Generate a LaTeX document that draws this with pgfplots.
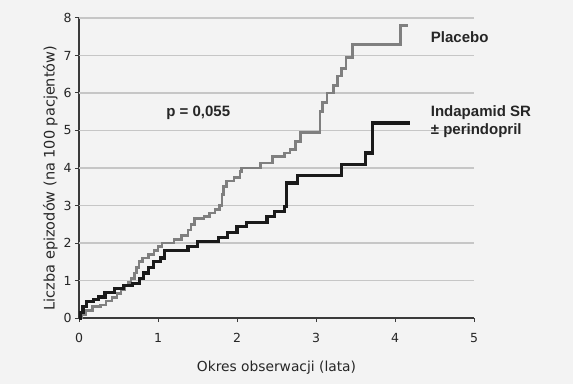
\documentclass[border=0pt]{standalone}
\usepackage{pgfplots}
\pgfplotsset{compat=1.18}
\usepackage{fontspec}
\setmainfont{DejaVu Sans}
\newfontfamily\arialfont{Liberation Sans}
\definecolor{bgc}{HTML}{F3F3F3}
\definecolor{gridc}{HTML}{C6C6C6}
\definecolor{plac}{HTML}{7F7F7F}
\definecolor{inda}{HTML}{1A1A1A}
\definecolor{axc}{HTML}{3A3A3A}
\definecolor{txt}{HTML}{262626}
\begin{document}
\begin{tikzpicture}
\path[use as bounding box, fill=bgc] (-79bp,-66bp) rectangle (494bp,318bp);
\begin{axis}[
  at={(0,0)}, anchor=south west,
  scale only axis, width=395bp, height=300bp,
  xmin=0, xmax=5, ymin=0, ymax=8,
  axis x line*=bottom, axis y line*=left,
  axis line style={axc, line width=1.4bp},
  xtick={0,1,2,3,4,5}, ytick={0,1,2,3,4,5,6,7,8},
  tick align=outside, major tick length=4bp,
  tick style={axc, line width=1bp},
  /pgf/number format/assume math mode=true,
  tick label style={font=\fontsize{12.5bp}{14bp}\selectfont, text=txt},
  xticklabel style={yshift=-8bp},
  xlabel={Okres obserwacji (lata)},
  ylabel={Liczba epizodów (na 100 pacjentów)},
  xlabel style={font=\fontsize{13.8bp}{15bp}\selectfont, text=txt, yshift=-11bp},
  ylabel style={font=\fontsize{14.5bp}{16bp}\selectfont, text=txt, yshift=-1bp, xshift=-10bp},
  clip=false,
]
\pgfplotsinvokeforeach{1,2,3,4,5,6,7,8}{
  \addplot[gridc, line width=1.6bp, forget plot] coordinates {(0,#1) (5,#1)};
}
\addplot[const plot, plac, line width=2.6bp] coordinates {
(0,0) (0.03,0.1) (0.08,0.2) (0.17,0.3) (0.27,0.35) (0.34,0.45) (0.42,0.55)
(0.48,0.65) (0.53,0.75) (0.58,0.85) (0.62,0.95) (0.66,1.05) (0.70,1.2)
(0.73,1.35) (0.76,1.5) (0.80,1.6) (0.88,1.7) (0.95,1.8) (1.0,1.9) (1.05,2.0)
(1.2,2.1) (1.3,2.2) (1.38,2.35) (1.42,2.5) (1.46,2.65) (1.58,2.7) (1.65,2.8)
(1.72,2.9) (1.78,3.0) (1.81,3.3) (1.83,3.5) (1.87,3.65) (1.96,3.75) (2.04,3.9)
(2.06,4.0) (2.3,4.13) (2.45,4.3) (2.6,4.4) (2.67,4.5) (2.74,4.7) (2.8,4.95)
(3.05,5.5) (3.08,5.75) (3.14,6.0) (3.22,6.2) (3.27,6.45) (3.32,6.65)
(3.38,6.95) (3.46,7.3) (4.07,7.8) (4.16,7.8)
};
\addplot[const plot, inda, line width=3.2bp] coordinates {
(0,0) (0.02,0.15) (0.05,0.3) (0.09,0.43) (0.18,0.5) (0.25,0.56) (0.33,0.67)
(0.45,0.78) (0.56,0.87) (0.68,0.93) (0.77,1.05) (0.82,1.2) (0.88,1.35)
(0.94,1.5) (1.03,1.6) (1.08,1.8) (1.38,1.9) (1.5,2.05) (1.77,2.15) (1.88,2.27)
(2.0,2.43) (2.12,2.55) (2.38,2.7) (2.47,2.83) (2.6,2.97) (2.63,3.6) (2.77,3.8)
(3.32,4.1) (3.63,4.4) (3.72,5.2) (4.19,5.2)
};
\node[font=\arialfont\bfseries\fontsize{15bp}{17bp}\selectfont, text=txt] at (axis cs:1.51,5.47) {p = 0,055};
\node[anchor=west, font=\arialfont\bfseries\fontsize{15bp}{17bp}\selectfont, text=txt] at (axis cs:4.41,7.49) {Placebo};
\node[anchor=west, align=left, font=\arialfont\bfseries\fontsize{15bp}{18bp}\selectfont, text=txt] at (axis cs:4.41,5.23) {Indapamid SR\\± perindopril};
\end{axis}
\end{tikzpicture}
\end{document}
